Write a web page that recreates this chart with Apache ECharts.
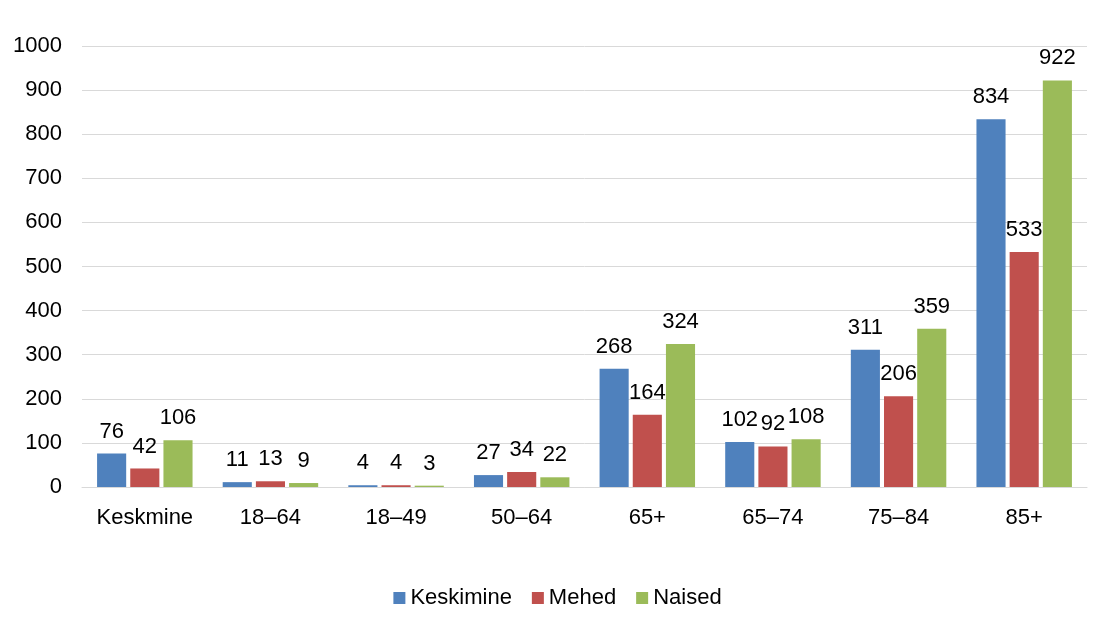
<!DOCTYPE html>
<html>
<head>
<meta charset="utf-8">
<script src="https://cdn.jsdelivr.net/npm/echarts@6/dist/echarts.min.js"></script>
<style>html,body{margin:0;padding:0;background:#fff}#c{width:1115px;height:631px}</style>
</head>
<body>
<div id="c"></div>
<script>
const categories = ['Keskmine', '18–64', '18–49', '50–64', '65+', '65–74', '75–84', '85+'];
const keskmine = [76, 11, 4, 27, 268, 102, 311, 834];
const mehed = [42, 13, 4, 34, 164, 92, 206, 533];
const naised = [106, 9, 3, 22, 324, 108, 359, 922];
const seriesNames = ['Keskimine', 'Mehed', 'Naised'];
const colors = ['#4F81BD', '#C0504D', '#9BBB59'];

const font = 'Liberation Sans, Arial, sans-serif';
const fs = 22;
const chart = echarts.init(document.getElementById('c'));
const mk = (name, data, color) => ({
  name, type: 'bar', data,
  itemStyle: { color },
  barGap: '14%',
  barCategoryGap: '24%',
  label: { show: true, position: 'top', distance: 11, color: '#000', fontSize: fs, fontFamily: font }
});
chart.setOption({
  animation: false,
  textStyle: { fontFamily: font },
  grid: { left: 82, right: 28, top: 46, bottom: 144, containLabel: false },
  legend: {
    top: 582, left: 'center', itemWidth: 12, itemHeight: 12, itemGap: 20,
    icon: 'rect',
    textStyle: { fontSize: fs, color: '#000', fontFamily: font },
    data: seriesNames
  },
  xAxis: {
    type: 'category', data: categories,
    axisLine: { lineStyle: { color: '#d9d9d9', width: 1 } },
    axisTick: { show: false },
    axisLabel: { fontSize: fs, color: '#000', margin: 20, fontFamily: font }
  },
  yAxis: {
    type: 'value', min: 0, max: 1000, interval: 100,
    axisLine: { show: false }, axisTick: { show: false },
    splitLine: { lineStyle: { color: '#d9d9d9', width: 1 } },
    axisLabel: { fontSize: fs, color: '#000', margin: 20, fontFamily: font, formatter: v => String(v) }
  },
  series: [mk(seriesNames[0], keskmine, colors[0]), mk(seriesNames[1], mehed, colors[1]), mk(seriesNames[2], naised, colors[2])]
});
</script>
</body>
</html>
